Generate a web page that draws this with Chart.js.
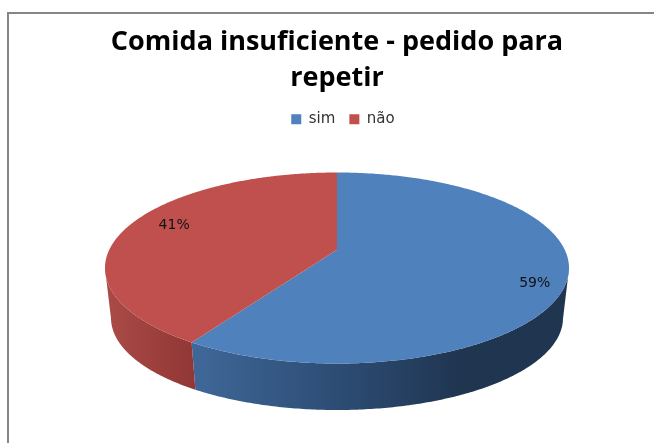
<!DOCTYPE html>
<html>
<head>
<meta charset="utf-8">
<style>
  html, body { margin: 0; padding: 0; background: #fff; }
  canvas { display: block; }
</style>
<script src="https://cdn.jsdelivr.net/npm/chart.js@4"></script>
</head>
<body>
<canvas id="myChart" width="654" height="443"></canvas>
<script>
var categories = ['sim', 'não'];
var values = [59, 41];
var titleLines = ['Comida insuficiente - pedido para', 'repetir'];

var topColors = ['#4f81bd', '#c0504d'];

// 3d look: top face and bottom edge of the disc, k moves the apex back
var top3d = { x: 337, y: 268, rx: 232, ry: 95.5 };
var bottom3d = { x: 337, y: 318, rx: 226, ry: 92 };
var k = 0.19;
var labelNudge = [[3, 11], [1, -5]];

// arc angle (radians, chart space) + radius fraction to unit disc coords
function project(angle, r) {
    var t = angle + Math.PI / 2;
    var u = r * Math.sin(t), v = r * Math.cos(t);
    var d = 1 + k * v;
    return { u: u * Math.sqrt(1 - k * k) / d, v: (v + k) / d };
}

function onEllipse(e, p) {
    return { x: e.x + e.rx * p.u, y: e.y - e.ry * p.v };
}

function sideFill(ctx, i) {
    var g;
    if (i === 0) {
        g = ctx.createLinearGradient(190, 0, 569, 0);
        g.addColorStop(0, '#3f6899');
        g.addColorStop(0.35, '#2f4f78');
        g.addColorStop(0.72, '#1f3550');
        g.addColorStop(1, '#1f3550');
    } else {
        g = ctx.createLinearGradient(105, 0, 193, 0);
        g.addColorStop(0, '#ab4b48');
        g.addColorStop(1, '#913735');
    }
    return g;
}

var pie3d = {
    id: 'pie3d',
    afterLayout: function (chart) {
        // legend sits a bit right of the title
        chart.legend.left += 12;
    },
    beforeDraw: function (chart) {
        var ctx = chart.ctx;
        ctx.save();
        ctx.fillStyle = '#868686';
        ctx.fillRect(7, 12, 647, 2);
        ctx.fillRect(7, 12, 2, 431);
        ctx.restore();
    },
    beforeDatasetsDraw: function (chart) {
        var ctx = chart.ctx;
        var arcs = chart.getDatasetMeta(0).data;
        ctx.save();

        // side wall, only the part of each slice facing us
        arcs.forEach(function (arc, i) {
            var front = [];
            var steps = 360;
            for (var s = 0; s <= steps; s++) {
                var a = arc.startAngle + (arc.endAngle - arc.startAngle) * s / steps;
                var p = project(a, 1);
                if (p.v <= 0) front.push(p);
            }
            if (!front.length) return;
            ctx.beginPath();
            front.forEach(function (p, j) {
                var q = onEllipse(top3d, p);
                if (j === 0) ctx.moveTo(q.x, q.y); else ctx.lineTo(q.x, q.y);
            });
            front.slice().reverse().forEach(function (p) {
                var q = onEllipse(bottom3d, p);
                ctx.lineTo(q.x, q.y);
            });
            ctx.closePath();
            ctx.fillStyle = sideFill(ctx, i);
            ctx.fill();
        });

        // top face
        arcs.forEach(function (arc, i) {
            var apex = onEllipse(top3d, project(0, 0));
            ctx.beginPath();
            ctx.moveTo(apex.x, apex.y);
            var steps = 360;
            for (var s = 0; s <= steps; s++) {
                var a = arc.startAngle + (arc.endAngle - arc.startAngle) * s / steps;
                var q = onEllipse(top3d, project(a, 1));
                ctx.lineTo(q.x, q.y);
            }
            ctx.closePath();
            ctx.fillStyle = topColors[i];
            ctx.fill();
        });

        // percent labels
        ctx.fillStyle = '#111';
        ctx.font = '14px "DejaVu Sans"';
        ctx.textAlign = 'center';
        ctx.textBaseline = 'middle';
        arcs.forEach(function (arc, i) {
            var q = onEllipse(top3d, project((arc.startAngle + arc.endAngle) / 2, i === 0 ? 0.85 : 0.78));
            ctx.fillText(values[i] + '%', q.x + labelNudge[i][0], q.y + labelNudge[i][1]);
        });
        ctx.restore();
        return false;
    }
};

var myChart = new Chart(document.getElementById('myChart').getContext('2d'), {
    type: 'pie',
    data: {
        labels: categories,
        datasets: [{
            data: values,
            backgroundColor: topColors,
            borderWidth: 0
        }]
    },
    options: {
        responsive: false,
        animation: false,
        layout: { padding: { top: 24, left: 20 } },
        plugins: {
            tooltip: { enabled: false },
            title: {
                display: true,
                text: titleLines,
                color: '#000',
                font: { family: '"Open Sans"', size: 27, weight: 'bold', lineHeight: 1.33 },
                padding: { top: 0, bottom: 2 }
            },
            legend: {
                display: true,
                position: 'top',
                onClick: null,
                labels: {
                    boxWidth: 10,
                    boxHeight: 10,
                    padding: 14,
                    color: '#333',
                    font: { family: '"DejaVu Sans"', size: 15 }
                }
            }
        }
    },
    plugins: [pie3d]
});
</script>
</body>
</html>
